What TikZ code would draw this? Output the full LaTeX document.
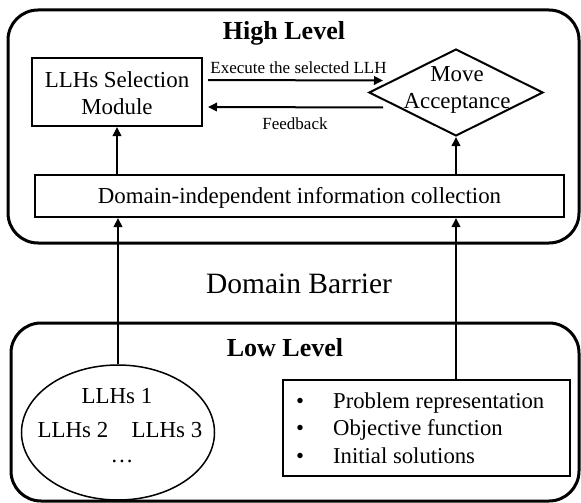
\documentclass[tikz,border=0pt]{standalone}
\usepackage{fontspec}
\setmainfont{Liberation Serif}
\usetikzlibrary{shapes.geometric,arrows.meta}
\begin{document}
\begin{tikzpicture}[x=1pt,y=-1pt,
  outer/.style={draw,line width=3pt,rounded corners=30pt,inner sep=0pt},
  box/.style={draw,line width=2pt,inner sep=0pt},
  arr/.style={line width=2pt,-{Triangle[length=9pt,width=8.5pt]}},
  txt/.style={font=\fontsize{22.9}{27}\selectfont,align=center,inner sep=0pt},
  small/.style={font=\fontsize{17}{20}\selectfont,inner sep=0pt},
  ttl/.style={font=\fontsize{26}{30}\selectfont\bfseries,inner sep=0pt}]
\useasboundingbox (0,0) rectangle (581,503);
% containers
\node[outer,minimum width=571pt,minimum height=233pt] (high) at (293.5,126.5) {};
\node[outer,minimum width=568pt,minimum height=178pt] (low) at (295,412) {};
% titles
\node[ttl] (hl) at (284,33) {High Level};
\node[ttl] (ll) at (285,348) {Low Level};
\node[font=\fontsize{29.5}{34}\selectfont,inner sep=0pt] (db) at (299,284) {Domain Barrier};
% high level
\node[box,minimum width=170pt,minimum height=68pt] (sel) at (117,92) {};
\node[txt] (seltext) at (117,93.5) {LLHs Selection\\Module};
\node[draw,line width=2pt,diamond,inner sep=0pt,minimum width=174pt,minimum height=87pt] (ma) at (456,92.5) {};
\node[txt] (matext) at (457,90) {Move\\Acceptance};
\node[box,minimum width=529pt,minimum height=42pt] (dic) at (299.5,196) {};
\node[txt] (dictext) at (299.5,198) {Domain-independent information collection};
% low level
\node[draw,line width=1.5pt,ellipse,inner sep=0pt,minimum width=193pt,minimum height=135pt] (ell) at (118,432.5) {};
\node[txt] (l1) at (117,396) {LLHs 1};
\node[txt] (l2) at (73,430) {LLHs 2};
\node[txt] (l3) at (167,430) {LLHs 3};
\node[txt] (l4) at (122,461) {\dots};
\node[box,minimum width=287pt,minimum height=96pt] (prob) at (426.5,428) {};
\node[font=\fontsize{22.7}{27.5}\selectfont,inner sep=0pt,anchor=west] (probtext) at (296,430)
  {\begin{tabular}{@{}l@{\hspace{29pt}}l@{}}\textbullet & Problem representation\\ \textbullet & Objective function\\ \textbullet & Initial solutions\end{tabular}};
% connectors
\draw[arr] ([shift={(5pt,12pt)}]sel.east) -- ([shift={(15pt,12pt)}]ma.west);
\draw[arr] ([shift={(15pt,-15pt)}]ma.west) -- ([shift={(5pt,-15pt)}]sel.east);
\node[small] (exlab) at (298.5,68) {Execute the selected LLH};
\node[small] (fblab) at (295,124) {Feedback};
\draw[arr] (dic.north -| sel.south) -- (sel.south);
\draw[arr] (dic.north -| ma.south) -- (ma.south);
\draw[arr] (ell.north) -- (ell.north |- dic.south);
\draw[arr] (ma.south |- prob.north) -- (ma.south |- dic.south);
\end{tikzpicture}
\end{document}
